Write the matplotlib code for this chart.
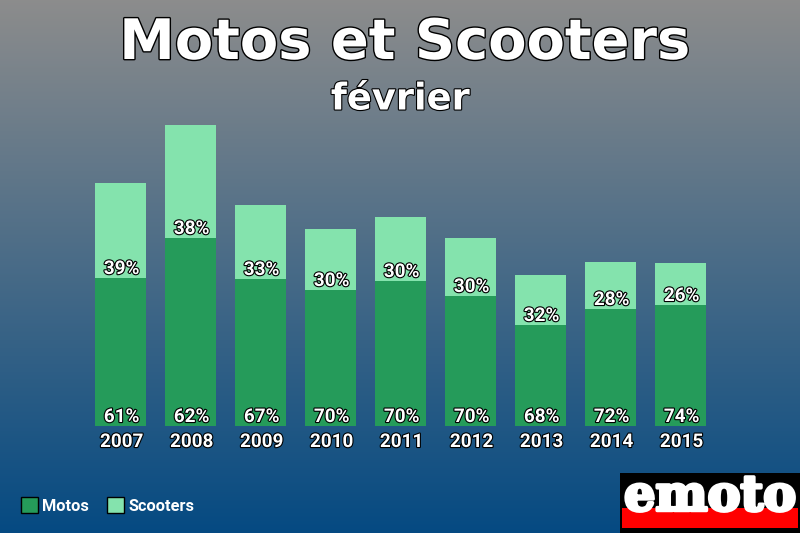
import numpy as np
import matplotlib
matplotlib.use('Agg')
import matplotlib.pyplot as plt
import matplotlib.patheffects as pe
from matplotlib.patches import Rectangle

years = ['2007', '2008', '2009', '2010', '2011', '2012', '2013', '2014', '2015']
motos = [148, 188, 147, 136, 145, 130, 101, 117, 121]
scooters = [95, 113, 74, 61, 64, 58, 50, 47, 42]
motos_pct = [61, 62, 67, 70, 70, 70, 68, 72, 74]
scooters_pct = [39, 38, 33, 30, 30, 30, 32, 28, 26]

W, H = 800, 533
green = '#259b5a'
light = '#84e3ad'


def outline(w):
    return [pe.withStroke(linewidth=w, foreground='black')]


fig = plt.figure(figsize=(W/100, H/100), dpi=100)

# background gradient, grey at the top to blue at the bottom
bg = fig.add_axes([0, 0, 1, 1], zorder=0)
top = np.array([0.55, 0.55, 0.55])
bottom = np.array([0.02, 0.29, 0.51])
t = np.linspace(0, 1, H)[:, None, None]
bg.imshow(top + (bottom - top)*t, aspect='auto', extent=[0, W, H, 0])
bg.set_xlim(0, W)
bg.set_ylim(H, 0)
bg.axis('off')

# plot area: one y unit is one pixel, baseline at y=426
ax = fig.add_axes([85.6/W, (H-426)/H, 630/W, 320/H], zorder=1)
ax.patch.set_alpha(0)
x = np.arange(len(years))
ax.bar(x, motos, width=0.73, color=green)
ax.bar(x, scooters, width=0.73, bottom=motos, color=light)
ax.set_xlim(-0.5, len(years)-0.5)
ax.set_ylim(0, 320)
ax.axis('off')

for i in x:
    ax.annotate(f'{motos_pct[i]}%', (i, 0), xytext=(1, 9), textcoords='offset pixels',
                ha='center', va='center', color='white', fontsize=13.6,
                family='Roboto', weight='bold', path_effects=outline(1.6))
    ax.annotate(f'{scooters_pct[i]}%', (i, motos[i]), xytext=(1, 9), textcoords='offset pixels',
                ha='center', va='center', color='white', fontsize=13.6,
                family='Roboto', weight='bold', path_effects=outline(1.6))
    ax.annotate(years[i], (i, 0), xytext=(1, -16), textcoords='offset pixels',
                ha='center', va='center', color='white', fontsize=13.6,
                family='Roboto', weight='bold', path_effects=outline(1.6),
                annotation_clip=False)

fig.text(405/W, 1-44/H, 'Motos et Scooters', ha='center', va='center', color='white',
         fontsize=40.2, family='DejaVu Sans', weight='bold', path_effects=outline(2))
fig.text(400.5/W, 1-99/H, 'février', ha='center', va='center', color='white',
         fontsize=26.5, family='DejaVu Sans', weight='bold', path_effects=outline(1.6))

# legend
handles = [Rectangle((0, 0), 1, 1, fc=green, ec='black'),
           Rectangle((0, 0), 1, 1, fc=light, ec='black')]
leg = fig.legend(handles, ['Motos', 'Scooters'], loc='center left',
                 bbox_to_anchor=(6/W, 1-505.5/H), ncol=2, frameon=False,
                 handlelength=1.05, handleheight=1.05, handletextpad=0.26,
                 columnspacing=1.11, prop={'family': 'Roboto', 'weight': 'bold', 'size': 11.8})
for txt in leg.get_texts():
    txt.set_color('white')

# emoto logo
logo = fig.add_axes([620/W, 0, 180/W, 60/H], zorder=2)
logo.set_xlim(0, 180)
logo.set_ylim(60, 0)
logo.set_facecolor('black')
logo.add_patch(Rectangle((2, 35), 176, 20, fc='#ff0000', ec='none'))
logo.text(90, 24, 'emoto', ha='center', va='center', color='white', fontsize=35.5,
          family='DejaVu Serif', weight='bold', path_effects=[pe.withStroke(linewidth=2.5, foreground='white')])
logo.set_xticks([])
logo.set_yticks([])
for s in logo.spines.values():
    s.set_visible(False)

fig.savefig('out.png', dpi=100)
